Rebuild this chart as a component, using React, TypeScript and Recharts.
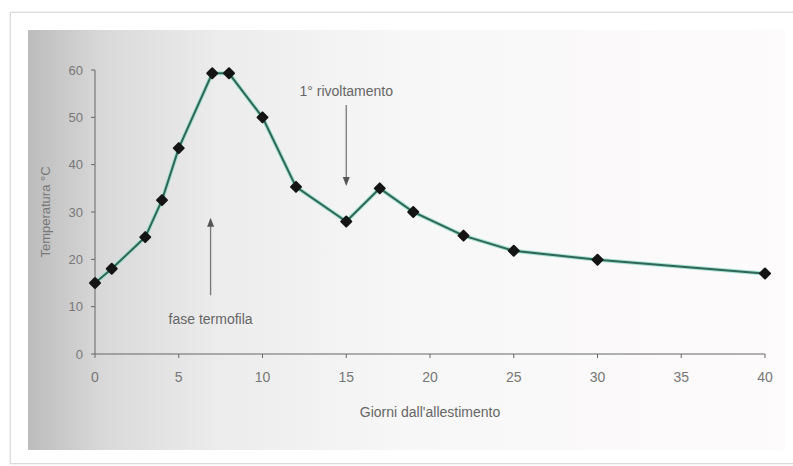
import { LineChart, Line, XAxis, YAxis, ReferenceLine } from 'recharts'

// Andamento della temperatura nel cumulo (giorni dall'allestimento).
const days = [0, 1, 3, 4, 5, 7, 8, 10, 12, 15, 17, 19, 22, 25, 30, 40]
const temps = [15, 18, 24.7, 32.5, 43.5, 59.3, 59.3, 50, 35.3, 28, 35, 30, 25, 21.8, 19.9, 17]
const xTicks = [0, 5, 10, 15, 20, 25, 30, 35, 40]
const yTicks = [0, 10, 20, 30, 40, 50, 60]

// annotazioni: freccia da (x, yFrom) a (x, yTo), testo a (x, yText)
const notes = [
  { text: '1° rivoltamento', x: 15, yFrom: 52.6, yTo: 35.5, yText: 55.6 },
  { text: 'fase termofila', x: 6.9, yFrom: 12.4, yTo: 28.8, yText: 7.4 },
]

const data = days.map((d, i) => ({ day: d, temp: temps[i] }))

const GREY = '#666'
const FONT = 'Liberation Sans, Arial, sans-serif'

const Diamond = (p: any) => {
  const { cx, cy } = p
  if (cx == null || cy == null) return null
  const r = 5
  return (
    <polygon
      points={`${cx},${cy - r} ${cx + r},${cy} ${cx},${cy + r} ${cx - r},${cy}`}
      fill="#151515"
      stroke="#151515"
      strokeWidth={2}
      strokeLinejoin="round"
    />
  )
}

const arrowShape = (p: any) => {
  const { x1, y1, x2, y2 } = p
  const down = y2 > y1
  const h = 9
  const tip = down
    ? `${x2},${y2} ${x2 - 3.5},${y2 - h} ${x2 + 3.5},${y2 - h}`
    : `${x2},${y2} ${x2 - 3.5},${y2 + h} ${x2 + 3.5},${y2 + h}`
  return (
    <g>
      <line x1={x1} y1={y1} x2={x2} y2={down ? y2 - h + 1 : y2 + h - 1} stroke="#777" strokeWidth={1.3} />
      <polygon points={tip} fill="#555" />
    </g>
  )
}

const YLabel = (p: any) => {
  const vb = p.viewBox || {}
  const cx = 45
  const cy = (vb.y ?? 70) + (vb.height ?? 284) / 2
  return (
    <text x={cx} y={cy} transform={`rotate(-90 ${cx} ${cy})`} textAnchor="middle" dominantBaseline="central" fill="#777" fontSize={13} fontFamily={FONT}>
      Temperatura °C
    </text>
  )
}

export default function App() {
  return (
    <div style={{ position: 'absolute', left: 0, top: 0, width: 793, height: 466, background: '#fff', overflow: 'hidden', fontFamily: FONT }}>
      <div
        style={{
          position: 'absolute', left: 10, top: 12, width: 800, height: 450,
          border: '1px solid #dcdcdc', boxShadow: '0 0 2px rgba(0,0,0,0.15)', background: '#fff',
        }}
      />
      <div
        style={{
          position: 'absolute', left: 28, top: 30, width: 757, height: 420,
          background: 'linear-gradient(90deg, #bcbcbc 0%, #d9d9d9 10%, #ececec 25%, #f8f7f7 50%, #fdfbfb 100%)',
        }}
      />
      <div style={{ position: 'absolute', left: 0, top: 0 }}>
        <LineChart width={793} height={466} data={data} margin={{ top: 70, right: 28, left: 55, bottom: 82 }}>
          <XAxis
            dataKey="day"
            type="number"
            domain={[0, 40]}
            ticks={xTicks}
            height={30}
            stroke={GREY}
            tickSize={4}
            tick={{ fill: '#777', fontSize: 14, fontFamily: FONT }}
            tickMargin={14}
            label={{ value: "Giorni dall'allestimento", position: 'insideBottom', offset: -33, fill: '#666', fontSize: 14, fontFamily: FONT }}
          />
          <YAxis
            type="number"
            domain={[0, 60]}
            ticks={yTicks}
            width={40}
            stroke={GREY}
            tickSize={4}
            tick={{ fill: '#777', fontSize: 13, fontFamily: FONT }}
            tickMargin={8}
            label={<YLabel />}
          />
          {notes.map((n) => (
            <ReferenceLine
              key={n.text}
              segment={[{ x: n.x, y: n.yFrom }, { x: n.x, y: n.yTo }]}
              shape={arrowShape}
              ifOverflow="visible"
            />
          ))}
          {notes.map((n) => (
            <ReferenceLine
              key={n.text + '-t'}
              segment={[{ x: n.x, y: n.yText }, { x: n.x, y: n.yText }]}
              ifOverflow="visible"
              stroke="none"
              label={{ value: n.text, position: 'center', fill: '#666', fontSize: 14, fontFamily: FONT }}
            />
          ))}
          <Line
            dataKey="temp"
            type="linear"
            stroke="#a6e0d2"
            strokeWidth={4}
            dot={false}
            activeDot={false}
            isAnimationActive={false}
          />
          <Line
            dataKey="temp"
            type="linear"
            stroke="#2f6656"
            strokeWidth={2}
            dot={<Diamond />}
            activeDot={false}
            isAnimationActive={false}
          />
        </LineChart>
      </div>
    </div>
  )
}
